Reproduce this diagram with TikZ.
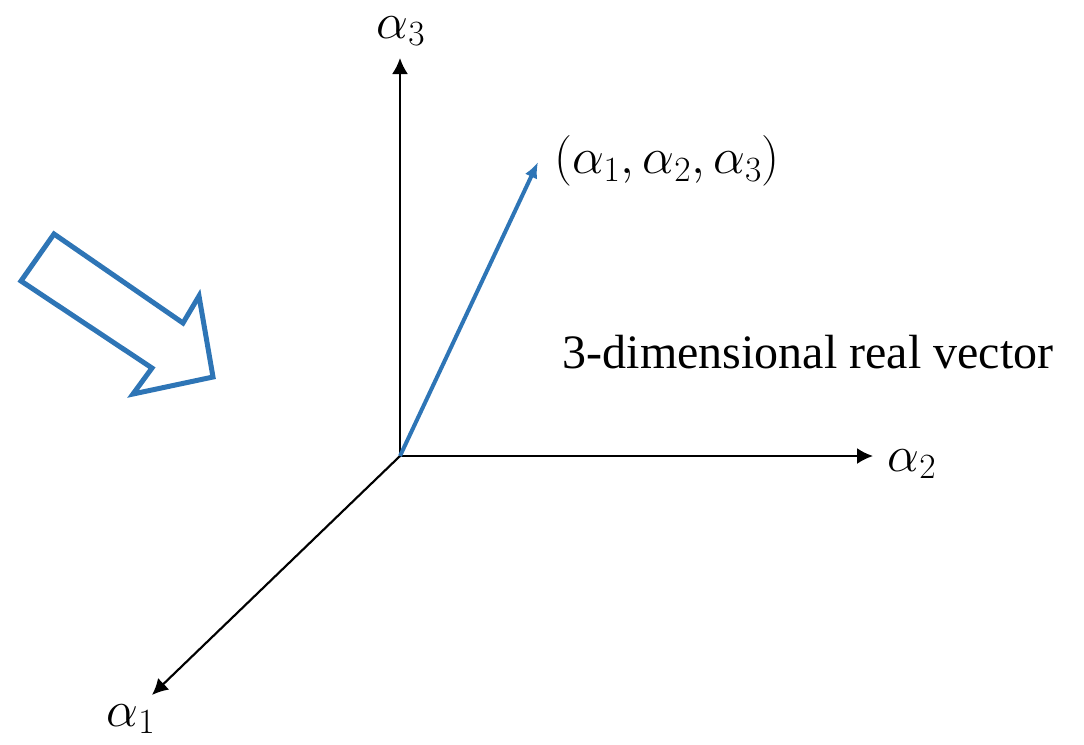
\RequirePackage{fix-cm}
\documentclass[tikz,border=0pt]{standalone}
\usepackage{fontspec}
\setmainfont{Liberation Serif}
\usetikzlibrary{arrows.meta}
\definecolor{vblue}{HTML}{2E75B6}
\begin{document}
\begin{tikzpicture}[x=0.75pt,y=-0.75pt,
  axis/.style={line width=1.6pt,-{Latex[length=12pt,width=12pt]}},
  vec/.style={vblue,line width=3pt,-{Latex[length=12pt,width=10pt]}},
  lab/.style={inner sep=0pt,font=\fontsize{38}{44}\selectfont},
  txt/.style={inner sep=0pt,font=\fontsize{36}{42}\selectfont}]
\useasboundingbox (0,0) rectangle (1084,744);
\coordinate (O) at (400,456);
\coordinate (A3) at (400,58);
\coordinate (A2) at (873,456);
\coordinate (A1) at (152,695);
\coordinate (V) at (538,162);
\draw[axis] (O) -- (A3);
\draw[axis] (O) -- (A2);
\draw[axis] (O) -- (A1);
\draw[vec] (O) -- (V);
\node[lab] (l3) at (401,31) {$\alpha_3$};
\node[lab] (l2) at (912,464) {$\alpha_2$};
\node[lab] (l1) at (131,719) {$\alpha_1$};
\node[lab] (lv) at (667,161) {$(\alpha_1,\alpha_2,\alpha_3)$};
\node[txt] (t) at (808,352) {3-dimensional real vector};
\draw[vblue,line width=3.75pt,line join=miter]
  (54,234) -- (183,323) -- (199,296) -- (213,377) -- (133,394) -- (152,368) -- (21,281) -- cycle;
\end{tikzpicture}
\end{document}
